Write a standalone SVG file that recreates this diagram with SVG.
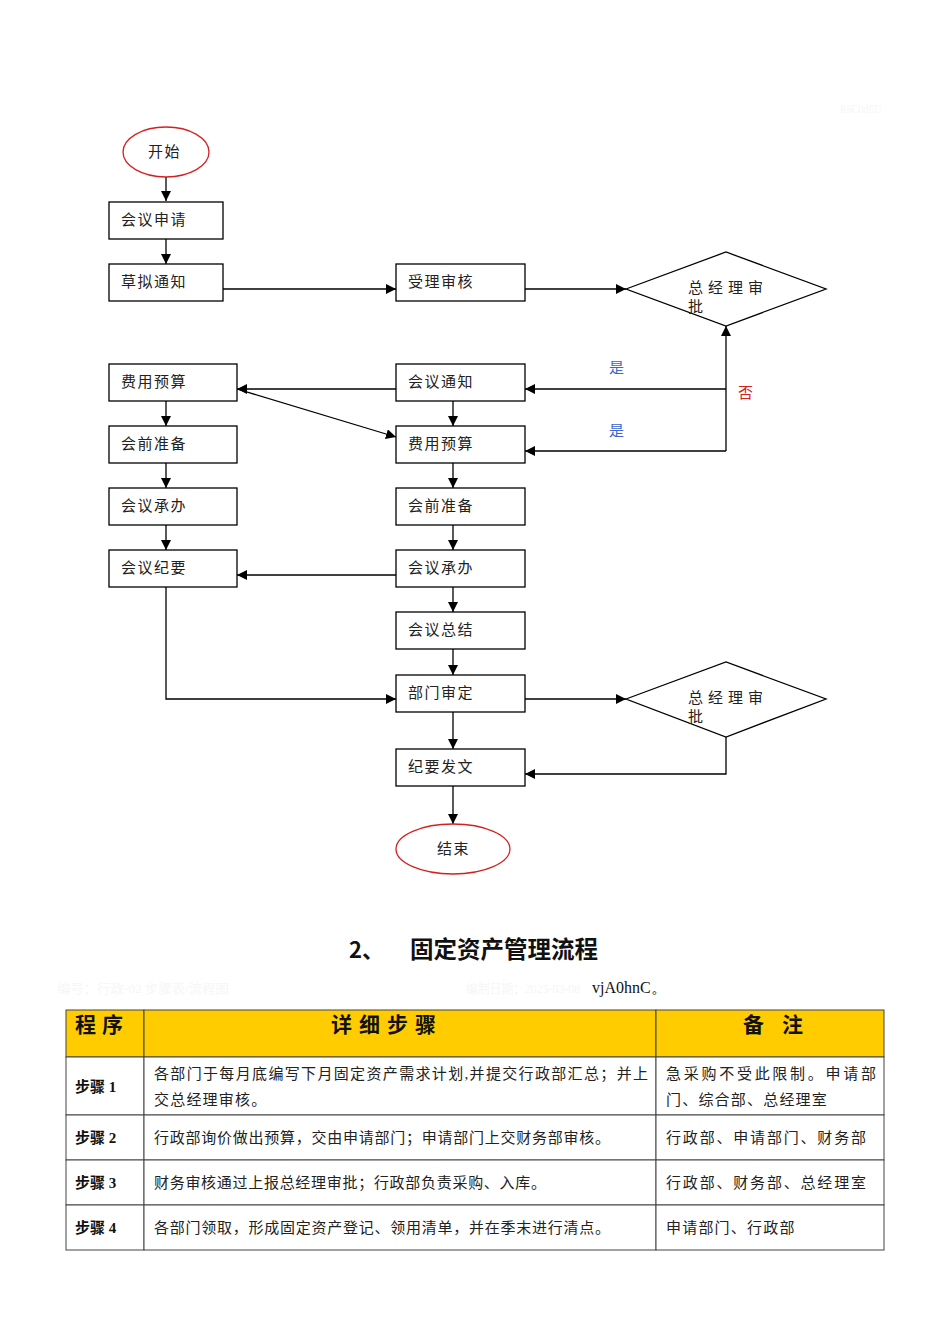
<svg xmlns="http://www.w3.org/2000/svg" width="950" height="1344" viewBox="0 0 950 1344">
<defs>
<marker id="ah" viewBox="0 0 10 10" refX="10" refY="5" markerWidth="10" markerHeight="10" markerUnits="userSpaceOnUse" orient="auto">
<path d="M0,0 L10,5 L0,10 z" fill="#000"/>
</marker>
</defs>
<style>
.box{fill:#fff;stroke:#000;stroke-width:1.3}
.term{fill:#fff;stroke:#d42020;stroke-width:1.3}
.dia{fill:#fff;stroke:#000;stroke-width:1.3}
.t{font-family:"Noto Sans CJK SC","Noto Sans",sans-serif;font-size:15px;fill:#222;letter-spacing:1.5px}
.dt{font-family:"Noto Sans CJK SC","Noto Sans",sans-serif;font-size:15px;fill:#222;letter-spacing:5px}
.con{fill:none;stroke:#000;stroke-width:1.3;marker-end:url(#ah)}
.yes{font-family:"Noto Sans CJK SC",sans-serif;font-size:15px;fill:#3a66d0}
.no{font-family:"Noto Sans CJK SC",sans-serif;font-size:15px;fill:#d42020}
.faint{font-family:"Liberation Serif","Noto Sans CJK SC",serif;font-size:13px;fill:#f6f6f6}
.cell{fill:#fff;stroke:#444;stroke-width:1}
.hdr{fill:#ffcc00;stroke:#444;stroke-width:1}
.ht{font-family:"Noto Sans CJK SC",sans-serif;font-size:21px;font-weight:bold;fill:#111}
.st{font-family:"Liberation Serif","Noto Sans CJK SC",serif;font-size:15px;font-weight:bold;fill:#111}
.ct{font-family:"Liberation Serif","Noto Sans CJK SC",serif;font-size:15px;fill:#222}
</style>

<text class="faint" x="840" y="113" textLength="44" lengthAdjust="spacingAndGlyphs">R6C0dEU.</text>

<g id="connectors">
<line class="con" x1="166" y1="177" x2="166" y2="201"/>
<line class="con" x1="166" y1="239" x2="166" y2="264"/>
<line class="con" x1="223" y1="289" x2="396" y2="289"/>
<line class="con" x1="525" y1="289" x2="626" y2="289"/>
<line class="con" x1="726" y1="451" x2="726" y2="326"/>
<line class="con" x1="726" y1="389" x2="525" y2="389"/>
<line class="con" x1="726" y1="451" x2="525" y2="451"/>
<line class="con" x1="396" y1="389" x2="237" y2="389"/>
<line class="con" x1="237" y1="389" x2="396" y2="437"/>
<line class="con" x1="166" y1="401" x2="166" y2="426"/>
<line class="con" x1="166" y1="463" x2="166" y2="488"/>
<line class="con" x1="166" y1="525" x2="166" y2="550"/>
<line class="con" x1="453" y1="401" x2="453" y2="426"/>
<line class="con" x1="453" y1="463" x2="453" y2="488"/>
<line class="con" x1="453" y1="525" x2="453" y2="550"/>
<line class="con" x1="453" y1="587" x2="453" y2="612"/>
<line class="con" x1="453" y1="649" x2="453" y2="675"/>
<line class="con" x1="453" y1="712" x2="453" y2="749"/>
<line class="con" x1="453" y1="786" x2="453" y2="824"/>
<line class="con" x1="396" y1="575" x2="237" y2="575"/>
<polyline class="con" points="166,587 166,699 396,699"/>
<line class="con" x1="525" y1="699" x2="626" y2="699"/>
<polyline class="con" points="726,737 726,774 525,774"/>
<text class="yes" x="609" y="373">是</text>
<text class="yes" x="609" y="436">是</text>
<text class="no" x="738" y="398">否</text>
</g>

<g id="start"><ellipse class="term" cx="166" cy="152" rx="43" ry="25"/><text class="t" x="148" y="157">开始</text></g>
<g id="n_apply"><rect class="box" x="109" y="202" width="114" height="37"/><text class="t" x="121" y="225">会议申请</text></g>
<g id="n_draft"><rect class="box" x="109" y="264" width="114" height="37"/><text class="t" x="121" y="287">草拟通知</text></g>
<g id="n_accept"><rect class="box" x="396" y="264" width="129" height="37"/><text class="t" x="408" y="287">受理审核</text></g>
<g id="d_gm1"><polygon class="dia" points="626,289 726,252 826,289 726,326"/><text class="dt" x="688" y="293">总经理审</text><text class="dt" x="688" y="312">批</text></g>

<g id="l_budget"><rect class="box" x="109" y="364" width="128" height="37"/><text class="t" x="121" y="387">费用预算</text></g>
<g id="l_prep"><rect class="box" x="109" y="426" width="128" height="37"/><text class="t" x="121" y="449">会前准备</text></g>
<g id="l_host"><rect class="box" x="109" y="488" width="128" height="37"/><text class="t" x="121" y="511">会议承办</text></g>
<g id="l_minutes"><rect class="box" x="109" y="550" width="128" height="37"/><text class="t" x="121" y="573">会议纪要</text></g>

<g id="r_notice"><rect class="box" x="396" y="364" width="129" height="37"/><text class="t" x="408" y="387">会议通知</text></g>
<g id="r_budget"><rect class="box" x="396" y="426" width="129" height="37"/><text class="t" x="408" y="449">费用预算</text></g>
<g id="r_prep"><rect class="box" x="396" y="488" width="129" height="37"/><text class="t" x="408" y="511">会前准备</text></g>
<g id="r_host"><rect class="box" x="396" y="550" width="129" height="37"/><text class="t" x="408" y="573">会议承办</text></g>
<g id="r_summary"><rect class="box" x="396" y="612" width="129" height="37"/><text class="t" x="408" y="635">会议总结</text></g>
<g id="r_dept"><rect class="box" x="396" y="675" width="129" height="37"/><text class="t" x="408" y="698">部门审定</text></g>
<g id="d_gm2"><polygon class="dia" points="626,699 726,662 826,699 726,737"/><text class="dt" x="688" y="703">总经理审</text><text class="dt" x="688" y="722">批</text></g>
<g id="r_issue"><rect class="box" x="396" y="749" width="129" height="37"/><text class="t" x="408" y="772">纪要发文</text></g>
<g id="end"><ellipse class="term" cx="453" cy="849" rx="57" ry="25"/><text class="t" x="437" y="854">结束</text></g>

<g id="title">
<text x="349" y="958" font-family="'Noto Sans CJK SC',sans-serif" font-size="22" font-weight="bold" fill="#111">2、</text>
<text x="410" y="958" font-family="'Noto Sans CJK SC',sans-serif" font-size="23.5" font-weight="bold" fill="#111">固定资产管理流程</text>
<text class="faint" x="57" y="993" textLength="172" lengthAdjust="spacingAndGlyphs">编号：行政-02 步骤表/流程图</text>
<text class="faint" x="466" y="993" textLength="114" lengthAdjust="spacingAndGlyphs">编制日期：2025-03-08</text>
<text x="592" y="993" font-family="'Liberation Serif',serif" font-size="16" fill="#111">vjA0hnC。</text>
</g>

<g id="table">
<rect class="hdr" x="66" y="1010" width="78" height="47"/>
<rect class="hdr" x="144" y="1010" width="512" height="47"/>
<rect class="hdr" x="656" y="1010" width="228" height="47"/>
<rect class="cell" x="66" y="1057" width="78" height="58"/>
<rect class="cell" x="144" y="1057" width="512" height="58"/>
<rect class="cell" x="656" y="1057" width="228" height="58"/>
<rect class="cell" x="66" y="1115" width="78" height="45"/>
<rect class="cell" x="144" y="1115" width="512" height="45"/>
<rect class="cell" x="656" y="1115" width="228" height="45"/>
<rect class="cell" x="66" y="1160" width="78" height="45"/>
<rect class="cell" x="144" y="1160" width="512" height="45"/>
<rect class="cell" x="656" y="1160" width="228" height="45"/>
<rect class="cell" x="66" y="1205" width="78" height="45"/>
<rect class="cell" x="144" y="1205" width="512" height="45"/>
<rect class="cell" x="656" y="1205" width="228" height="45"/>
<text class="ht" x="75" y="1032" letter-spacing="6">程序</text>
<text class="ht" x="331" y="1032" letter-spacing="7">详细步骤</text>
<text class="ht" x="743" y="1032" letter-spacing="18">备注</text>
<text class="st" x="75" y="1092">步骤 1</text>
<text class="ct" x="154" y="1079" textLength="494" lengthAdjust="spacing">各部门于每月底编写下月固定资产需求计划,并提交行政部汇总；并上</text>
<text class="ct" x="154" y="1105" letter-spacing="1.2">交总经理审核。</text>
<text class="ct" x="666" y="1079" textLength="210" lengthAdjust="spacing">急采购不受此限制。申请部</text>
<text class="ct" x="666" y="1105" letter-spacing="1.2">门、综合部、总经理室</text>
<text class="st" x="75" y="1143">步骤 2</text>
<text class="ct" x="154" y="1143" textLength="456" lengthAdjust="spacing">行政部询价做出预算，交由申请部门；申请部门上交财务部审核。</text>
<text class="ct" x="666" y="1143" textLength="200" lengthAdjust="spacing">行政部、申请部门、财务部</text>
<text class="st" x="75" y="1188">步骤 3</text>
<text class="ct" x="154" y="1188" textLength="392" lengthAdjust="spacing">财务审核通过上报总经理审批；行政部负责采购、入库。</text>
<text class="ct" x="666" y="1188" textLength="200" lengthAdjust="spacing">行政部、财务部、总经理室</text>
<text class="st" x="75" y="1233">步骤 4</text>
<text class="ct" x="154" y="1233" textLength="456" lengthAdjust="spacing">各部门领取，形成固定资产登记、领用清单，并在季末进行清点。</text>
<text class="ct" x="666" y="1233" letter-spacing="1.2">申请部门、行政部</text>
</g>
</svg>
